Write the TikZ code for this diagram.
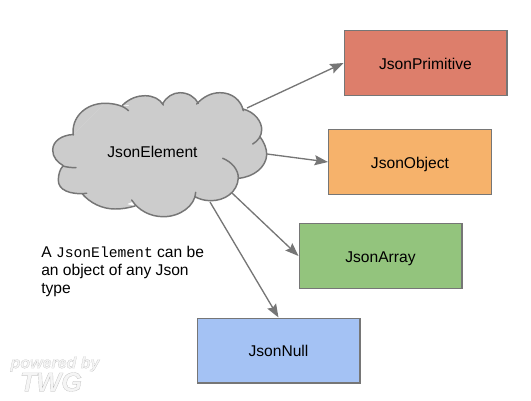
\documentclass[tikz,border=0pt]{standalone}
\usepackage{fontspec}
\setmainfont{Liberation Sans}
\setmonofont{Liberation Mono}
\newfontfamily\logofont[FakeBold=0.6]{Liberation Sans Bold Italic}
\usepackage{xcolor}
\usetikzlibrary{arrows.meta, positioning, calc}
\definecolor{boxred}{RGB}{221, 126, 107}
\definecolor{boxorange}{RGB}{246, 178, 107}
\definecolor{boxgreen}{RGB}{147, 196, 125}
\definecolor{boxblue}{RGB}{164, 194, 244}
\definecolor{cloudgray}{RGB}{204, 204, 204}
\definecolor{linegray}{RGB}{118, 118, 118}
\newcommand{\logotext}[1]{\special{pdf:bcolor [0.96] [0.68]}#1\special{pdf:ecolor}}
\tikzset{
    typebox/.style={draw=linegray, line width=1pt, minimum width=122pt, minimum height=48.5pt, text height=10pt, text depth=1pt, font=\fontsize{11.7pt}{13pt}\selectfont},
    typeline/.style={draw=linegray, line width=1pt, -{Stealth[length=10pt, width=7.5pt, inset=1.5pt]}},
}

\begin{document}
\begin{tikzpicture}[x=0.75pt, y=-0.75pt]
    \useasboundingbox (0,0) rectangle (531,400);
    % connectors
    \coordinate (p1) at (247,108);
    \coordinate (p2) at (267,154);
    \coordinate (p3) at (232,193);
    \coordinate (p4) at (210,202);
    % cloud, fill then outline
    \fill[cloudgray] (73.3,135) -- (105,103.3) -- (128,106) -- (145,95.7) -- (163,104) -- (180,92.7) -- (198,104) -- (220,92.7) -- (243,110)
        -- (261.7,130) -- (258,140) -- (266.7,155) -- (238.3,178.3) -- (210,200.7) -- (195,197) -- (163.3,216.7) -- (132,202) -- (115,209) -- (84,193)
        -- (58.3,180) -- (63,166) -- (52.7,150) -- cycle;
    \fill[cloudgray] (105,103.3) .. controls (85,103.3) and (71,118) .. (73.3,135) -- cycle;
    \fill[cloudgray] (145,95.7) .. controls (138,95.7) and (130,98) .. (122.7,105) -- (163,105) .. controls (160,99) and (153,95.7) .. (145,95.7);
    \fill[cloudgray] (163,105) .. controls (166,97) and (173,92.7) .. (180,92.7) .. controls (188,92.7) and (195,97) .. (198.3,104) -- cycle;
    \fill[cloudgray] (197,105) .. controls (203,97) and (211,92.7) .. (220,92.7) .. controls (232,92.7) and (241,100) .. (243.3,110.7) -- cycle;
    \fill[cloudgray] (243,109) .. controls (255,112) and (262,122) .. (261.7,130) .. controls (261.5,136) and (258,141) .. (252.7,144) -- cycle;
    \fill[cloudgray] (260,136.7) .. controls (264,142) and (267,149) .. (266.7,155) .. controls (266,167) and (254,177) .. (238.3,178.3) -- cycle;
    \fill[cloudgray] (238.3,178) .. controls (237.5,192) and (225,201) .. (210,200.7) .. controls (204,200.5) and (199,199) .. (195,196.7) -- cycle;
    \fill[cloudgray] (195.7,192.3) .. controls (195,206) and (180,216.7) .. (163.3,216.7) .. controls (150,216.7) and (138,210) .. (131.7,200) -- cycle;
    \fill[cloudgray] (135,206) .. controls (128,208) and (122,209) .. (115,209) .. controls (102,209) and (90,203) .. (81.7,193.3) -- cycle;
    \fill[cloudgray] (86.7,193.3) .. controls (70,195) and (58,190) .. (58.3,180) .. controls (58.5,174) and (60,169) .. (63,166) -- cycle;
    \fill[cloudgray] (63.3,165.7) .. controls (57,162) and (52.7,157) .. (52.7,150) .. controls (52.7,141) and (62,135) .. (73.3,134.5) -- cycle;
    \draw[draw=linegray, line width=1.1pt, line cap=round]
        (73.3,135) .. controls (71,118) and (85,103.3) .. (105,103.3) .. controls (115,103.3) and (124,106) .. (128.5,110.7)
        (122.7,105) .. controls (130,98) and (138,95.7) .. (145,95.7) .. controls (153,95.7) and (160,99) .. (163.3,105)
        (162.7,104) .. controls (166,97) and (173,92.7) .. (180,92.7) .. controls (188,92.7) and (195,97) .. (198.3,103.3)
        (196.7,104) .. controls (203,97) and (211,92.7) .. (220,92.7) .. controls (232,92.7) and (241,100) .. (243.3,110.7)
        (243,109) .. controls (255,112) and (262,122) .. (261.7,130) .. controls (261.5,136) and (258,141) .. (252.7,144)
        (260,136.7) .. controls (264,142) and (267,149) .. (266.7,155) .. controls (266,167) and (254,177) .. (238.3,178.3)
        (222.7,158.3) .. controls (232,162) and (238.5,170) .. (238.3,178) .. controls (237.5,192) and (225,201) .. (210,200.7) .. controls (204,200.5) and (199,199) .. (195,196.7)
        (195.7,192.3) .. controls (195,206) and (180,216.7) .. (163.3,216.7) .. controls (150,216.7) and (138,210) .. (131.7,200)
        (135,206) .. controls (128,208) and (122,209) .. (115,209) .. controls (102,209) and (90,203) .. (81.7,193.3)
        (86.7,193.3) .. controls (70,195) and (58,190) .. (58.3,180) .. controls (58.5,174) and (60,169) .. (63,166) .. controls (66,167) and (71,167.7) .. (76,167.7)
        (63.3,165.7) .. controls (57,162) and (52.7,157) .. (52.7,150) .. controls (52.7,141) and (62,135) .. (73.3,134.5);
    \node (element) at (152.5,151.5) {\fontsize{11.7pt}{13pt}\selectfont JsonElement};

    % types
    \node[typebox, fill=boxred] (primitive) at (425.5,63) {JsonPrimitive};
    \node[typebox, fill=boxorange] (object) at (410,162) {JsonObject};
    \node[typebox, fill=boxgreen] (array) at (380.5,256) {JsonArray};
    \node[typebox, fill=boxblue] (null) at (278.5,350.5) {JsonNull};

    \draw[typeline] (p1) -- (primitive.west);
    \draw[typeline] (p2) -- (object.west);
    \draw[typeline] (p3) -- (array.west);
    \draw[typeline] (p4) -- (null.north);

    \node[align=left, anchor=north west, inner sep=0pt, font=\fontsize{11.7pt}{13.5pt}\selectfont] (note) at (41,246)
        {A \texttt{\fontsize{11pt}{13.5pt}\selectfont JsonElement} can be\\an object of any Json\\type};

    % logo
    \node[inner sep=0pt, font=\logofont\fontsize{12pt}{13pt}\selectfont] (logoa) at (55,364) {\logotext{powered by}};
    \node[inner sep=0pt, font=\logofont\fontsize{20pt}{20pt}\selectfont] (logob) at (51,382) {\logotext{TWG}};
\end{tikzpicture}
\end{document}
